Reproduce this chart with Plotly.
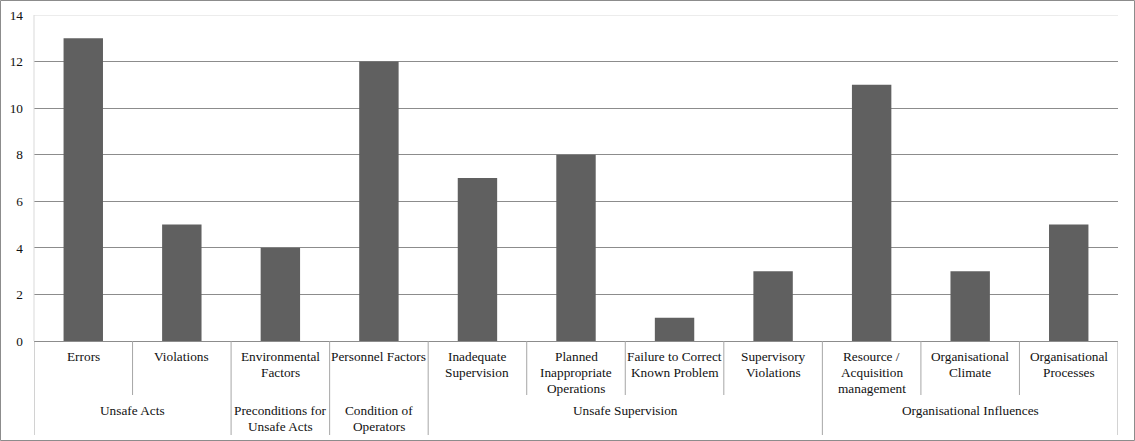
import plotly.graph_objects as go

categories = ["Errors", "Violations", "Environmental<br>Factors", "Personnel Factors",
              "Inadequate<br>Supervision", "Planned<br>Inappropriate<br>Operations",
              "Failure to Correct<br>Known Problem", "Supervisory<br>Violations",
              "Resource /<br>Acquisition<br>management", "Organisational<br>Climate",
              "Organisational<br>Processes"]
values = [13, 5, 4, 12, 7, 8, 1, 3, 11, 3, 5]
groups = ["Unsafe Acts", "Unsafe Acts", "Preconditions for<br>Unsafe Acts",
          "Condition of<br>Operators", "Unsafe Supervision", "Unsafe Supervision",
          "Unsafe Supervision", "Unsafe Supervision", "Organisational Influences",
          "Organisational Influences", "Organisational Influences"]
y_ticks = [0, 2, 4, 6, 8, 10, 12, 14]

FONT = "Liberation Serif"
FSIZE = 13.3
TXT = "#111111"
DIV = "#a6a6a6"
PLOT_H = 326.0
AXIS_PX = 341.0
LINE_PX = 15.8

fig = go.Figure(go.Bar(x=list(range(len(categories))), y=values,
                       marker=dict(color="#606060", line=dict(width=0)), width=0.4))

# group spans
spans = []
start = 0
for i in range(1, len(groups) + 1):
    if i == len(groups) or groups[i] != groups[start]:
        spans.append((start, i - 1, groups[start]))
        start = i

def py(px):
    return (AXIS_PX - px) / PLOT_H

short_y = py(395)
long_y = py(435)
shapes = []
group_edges = set()
for s, e, _ in spans:
    group_edges.add(s - 0.5)
    group_edges.add(e + 0.5)
for i in range(len(categories) + 1):
    xb = i - 0.5
    y0 = long_y if xb in group_edges else short_y
    shapes.append(dict(type="line", xref="x", yref="paper", x0=xb, x1=xb, y0=0, y1=y0,
                       line=dict(color=DIV, width=1)))
# light top gridline and left axis
shapes.append(dict(type="line", xref="paper", yref="y", x0=0, x1=1, y0=14, y1=14,
                   line=dict(color="#d9d9d9", width=1), layer="above"))
shapes.append(dict(type="line", xref="paper", yref="paper", x0=0, x1=0, y0=0, y1=1,
                   line=dict(color="#d9d9d9", width=1)))
# outer border
shapes.append(dict(type="rect", xref="paper", yref="paper",
                   x0=(0.5 - 34) / 1084, x1=(1134.5 - 34) / 1084,
                   y0=py(440.5), y1=py(0.5),
                   line=dict(color="#8c8c8c", width=1)))

annotations = []
def add_label(xv, text, first_center_px):
    for k, line in enumerate(text.split("<br>")):
        annotations.append(dict(x=xv, xref="x", y=py(first_center_px + k * LINE_PX),
                                yref="paper", text=line, showarrow=False,
                                yanchor="middle", xanchor="center",
                                font=dict(family=FONT, size=FSIZE, color=TXT)))

for i, c in enumerate(categories):
    add_label(i, c, 356.5)
for s, e, g in spans:
    add_label((s + e) / 2, g, 410.5)

fig.update_layout(
    width=1135, height=441,
    margin=dict(l=34, r=17, t=15, b=100, autoexpand=False),
    paper_bgcolor="white", plot_bgcolor="white",
    showlegend=False,
    shapes=shapes, annotations=annotations,
    font=dict(family=FONT, size=FSIZE, color=TXT),
)
fig.update_xaxes(range=[-0.5, len(categories) - 0.5], showticklabels=False, showgrid=False,
                 zeroline=False, showline=False, ticks="", automargin=False)
fig.update_yaxes(range=[0, 14], tickvals=y_ticks, showgrid=True, gridcolor="#8c8c8c",
                 gridwidth=1, zeroline=True, zerolinecolor="#8c8c8c", zerolinewidth=1,
                 showline=False, ticks="", ticklabelstandoff=10, automargin=False,
                 tickfont=dict(family=FONT, size=FSIZE, color=TXT))

fig.write_html("out.html")
